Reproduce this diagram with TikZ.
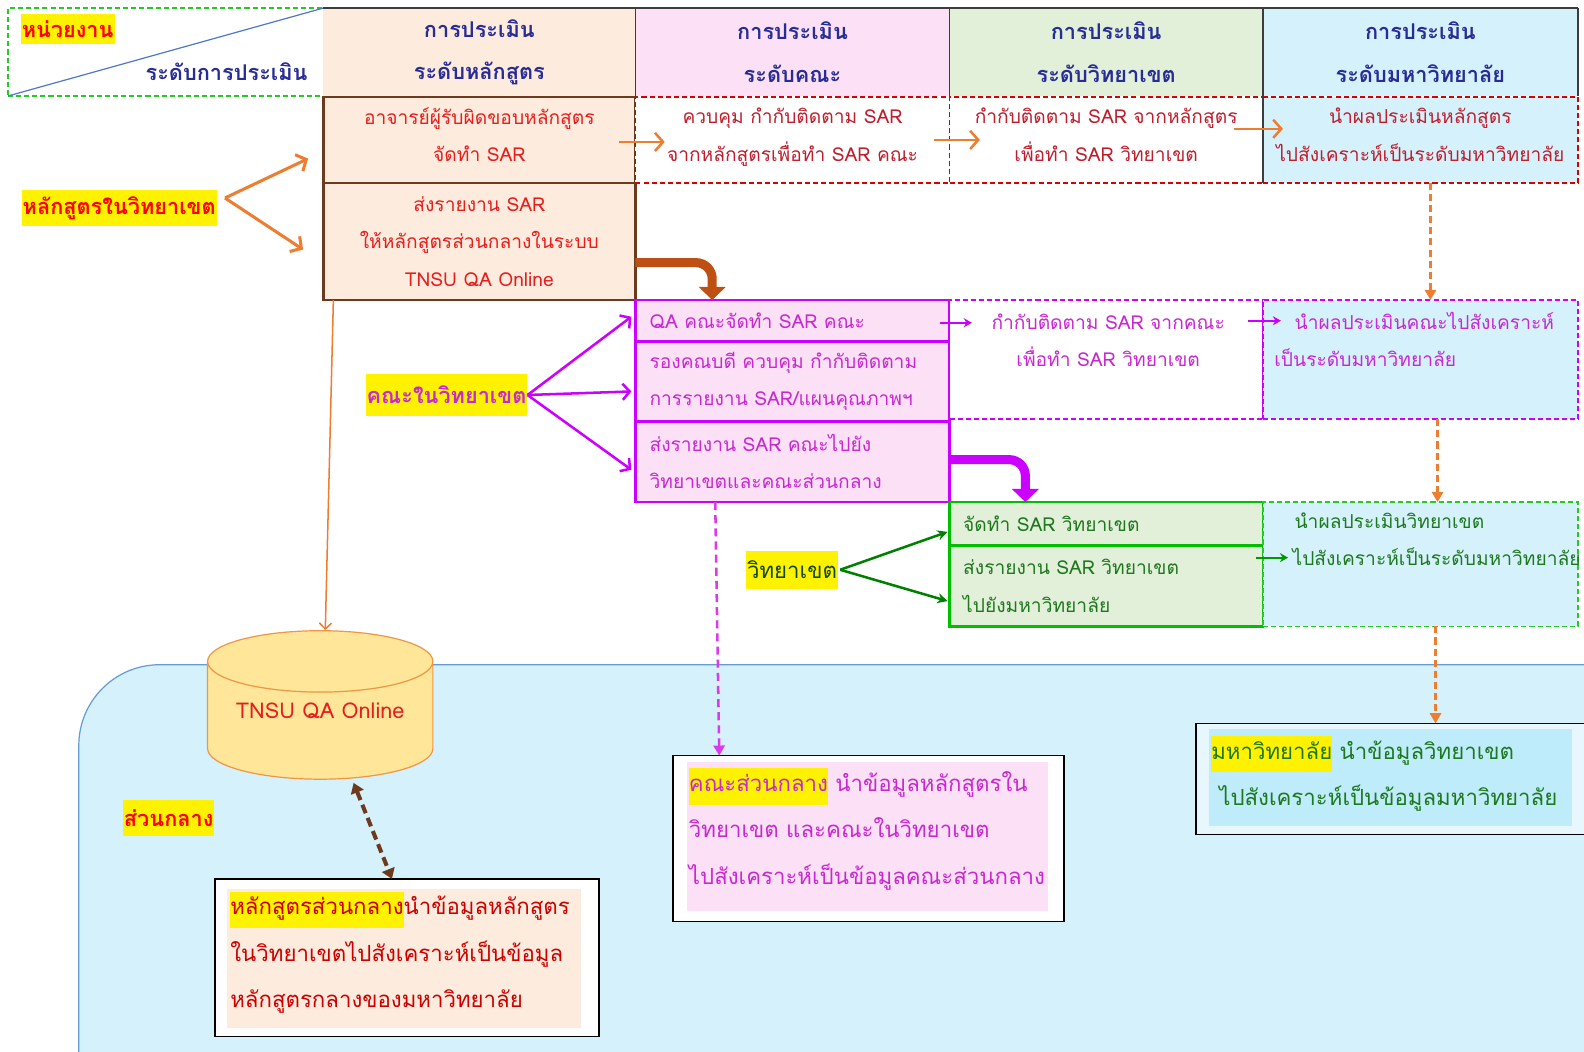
\documentclass[tikz,border=0pt]{standalone}
\usepackage{fontspec}
\setmainfont[Script=Thai]{Loma}
\usetikzlibrary{arrows.meta,shapes.geometric,positioning}

\definecolor{peach}{RGB}{253,235,221}
\definecolor{pinkbg}{RGB}{252,225,246}
\definecolor{greenbg}{RGB}{226,239,217}
\definecolor{bluebg}{RGB}{213,242,252}
\definecolor{uniin}{RGB}{190,236,250}
\definecolor{uniout}{RGB}{232,246,253}
\definecolor{navytxt}{RGB}{40,45,150}
\definecolor{redtxt}{RGB}{230,30,30}
\definecolor{dredtxt}{RGB}{190,30,45}
\definecolor{magtxt}{RGB}{200,40,210}
\definecolor{magline}{RGB}{204,0,255}
\definecolor{grtxt}{RGB}{30,120,30}
\definecolor{grline}{RGB}{0,190,0}
\definecolor{hdgreen}{RGB}{40,200,40}
\definecolor{brownline}{RGB}{110,58,30}
\definecolor{brownarr}{RGB}{190,80,20}
\definecolor{oarr}{RGB}{237,125,49}
\definecolor{gridgray}{RGB}{60,60,60}
\definecolor{diagblue}{RGB}{80,120,200}
\definecolor{centralfill}{RGB}{213,241,252}
\definecolor{centralline}{RGB}{100,155,215}
\definecolor{dbfill}{RGB}{255,230,153}
\definecolor{dbline}{RGB}{240,150,70}

\newcommand{\hlyel}[1]{{\setlength{\fboxsep}{0pt}\colorbox{yellow}{\vrule height 23pt depth 13pt width 0pt#1}}}

\tikzset{
  cell/.style={rectangle, inner sep=0pt, outer sep=0pt},
  txt/.style={font=\fontsize{19}{37}\selectfont, align=center},
  lift/.style={text depth=10pt},
  dashcell/.style={line width=1.6pt, dash pattern=on 5pt off 3pt},
  hdr/.style={cell, txt, font=\bfseries\fontsize{21.5}{42}\selectfont, text=navytxt},
  progbox/.style={cell, txt, fill=peach, draw=brownline, line width=2.5pt, text=redtxt},
  redcell/.style={cell, txt, lift, draw=red!85!black, dashcell, text=dredtxt},
  facbox/.style={cell, txt, align=left, fill=pinkbg, draw=magline, line width=2.5pt, text=magtxt, text width=283pt, inner xsep=14pt},
  magcell/.style={cell, draw=magline, dashcell},
  cambox/.style={cell, txt, align=left, fill=greenbg, draw=grline, line width=2.5pt, text=grtxt, text width=283pt, inner xsep=13pt},
  tag/.style={fill=yellow, inner xsep=1pt, inner ysep=0pt, minimum height=36pt, font=\bfseries\fontsize{21.5}{37}\selectfont},
  lowtxt/.style={cell, font=\fontsize{22}{46}\selectfont, align=left},
  oarrow/.style={draw=oarr, line width=3pt, -{Straight Barb[length=8pt,width=18pt]}},
  marrow/.style={draw=magline, line width=2.5pt, -{Straight Barb[length=7pt,width=16pt]}},
  garrow/.style={draw=green!50!black, line width=2.5pt, -{Stealth[length=10pt,width=10pt]}},
  smallarr/.style={line width=2pt, -{Stealth[length=8pt,width=9pt]}},
  ddown/.style={draw=oarr, line width=2.5pt, dash pattern=on 7pt off 4pt, -{Triangle[length=10pt,width=11pt]}},
}

\begin{document}
\begin{tikzpicture}[x=1pt,y=1pt,yscale=-1]
\useasboundingbox (0,0) rectangle (1568,1041);

% central area
\fill[centralfill, draw=centralline, line width=1.2pt, rounded corners=80pt] (78,658) rectangle (1650,1120);

% header row
\node[cell, draw=hdgreen, dashcell, line width=1.4pt, minimum width=312pt, minimum height=87pt] (hUnit) at (164,51.5) {};
\draw[diagblue, line width=1.2pt] (hUnit.south west) -- (hUnit.north east);
\node[tag, minimum height=30pt, text=red] (lblUnit) at (67,29) {หน่วยงาน};
\node[txt, font=\bfseries\fontsize{21.5}{37}\selectfont, text=navytxt, anchor=east] (lblLevel) at (308,71) {ระดับการประเมิน};

\node[hdr, fill=peach, minimum width=309pt, minimum height=87pt] (hProg) at (474.5,51.5) {การประเมิน\\ระดับหลักสูตร};
\node[hdr, fill=pinkbg, minimum width=311pt, minimum height=87pt] (hFac) at (784.5,51.5) {การประเมิน\\ระดับคณะ};
\node[hdr, fill=greenbg, minimum width=310pt, minimum height=87pt] (hCam) at (1095,51.5) {การประเมิน\\ระดับวิทยาเขต};
\node[hdr, fill=bluebg, minimum width=312pt, minimum height=87pt] (hUni) at (1406,51.5) {การประเมิน\\ระดับมหาวิทยาลัย};

% row: programme
\node[progbox, lift, minimum width=309pt, minimum height=85pt] (progA) at (474.5,138.5) {อาจารย์ผู้รับผิดขอบหลักสูตร\\จัดทำ SAR};
\node[progbox, minimum width=309pt, minimum height=116pt] (progB) at (474.5,239) {ส่งรายงาน SAR\\ให้หลักสูตรส่วนกลางในระบบ\\TNSU QA Online};
\node[redcell, fill=white, minimum width=311pt, minimum height=85pt] (facA) at (784.5,138.5) {ควบคุม กำกับติดตาม SAR\\จากหลักสูตรเพื่อทำ SAR คณะ};
\node[redcell, fill=white, minimum width=310pt, minimum height=85pt] (camA) at (1095,138.5) {กำกับติดตาม SAR จากหลักสูตร\\เพื่อทำ SAR วิทยาเขต};
\node[redcell, fill=bluebg, minimum width=312pt, minimum height=85pt] (uniA) at (1406,138.5) {นำผลประเมินหลักสูตร\\ไปสังเคราะห์เป็นระดับมหาวิทยาลัย};

\draw[gridgray, line width=1.5pt] (hProg.north west) -- (hUni.north east);
\draw[gridgray, line width=1pt] (hFac.north west) -- (hFac.south west);
\draw[gridgray, line width=1pt] (hCam.north west) -- (hCam.south west);
\draw[gridgray, line width=1.5pt] (hUni.north west) -- (uniA.south west);
\draw[gridgray, line width=1.5pt] (hUni.north east) -- (hUni.south east);

% row: faculty
\node[facbox, minimum width=311pt, minimum height=41pt] (facB1) at (784.5,317.5) {QA คณะจัดทำ SAR คณะ};
\node[facbox, minimum width=311pt, minimum height=79pt] (facB2) at (784.5,377.5) {รองคณบดี ควบคุม กำกับติดตาม\\การรายงาน SAR/แผนคุณภาพฯ};
\node[facbox, minimum width=311pt, minimum height=80pt] (facB3) at (784.5,457) {ส่งรายงาน SAR คณะไปยัง\\วิทยาเขตและคณะส่วนกลาง};
\node[magcell, fill=white, minimum width=310pt, minimum height=118pt] (camB) at (1095,356) {};
\node[magcell, fill=bluebg, minimum width=312pt, minimum height=118pt] (uniB) at (1406,356) {};
\node[txt, text=magtxt] (camBtxt) at (1097,336.5) {กำกับติดตาม SAR จากคณะ\\เพื่อทำ SAR วิทยาเขต};
\node[txt, align=left, text=magtxt, anchor=west] (uniBtxt) at (1258,336) {\hspace*{20pt}นำผลประเมินคณะไปสังเคราะห์\\เป็นระดับมหาวิทยาลัย};

% row: campus
\node[cambox, minimum width=310pt, minimum height=43pt] (camC1) at (1095,518.5) {จัดทำ SAR วิทยาเขต};
\node[cambox, minimum width=310pt, minimum height=80pt] (camC2) at (1095,580) {ส่งรายงาน SAR วิทยาเขต\\ไปยังมหาวิทยาลัย};
\node[cell, fill=bluebg, draw=hdgreen, dashcell, minimum width=312pt, minimum height=123pt] (uniC) at (1406,558.5) {};
\node[txt, align=left, text=grtxt, anchor=west] (uniCtxt) at (1276,534) {\hspace*{2pt}นำผลประเมินวิทยาเขต\\ไปสังเคราะห์เป็นระดับมหาวิทยาลัย};

% unit labels
\node[tag, text=red] (lblProg) at (118,206) {หลักสูตรในวิทยาเขต};
\node[tag, minimum height=42pt, text=magtxt] (lblFac) at (442,391) {คณะในวิทยาเขต};
\node[tag, minimum height=38pt, font=\fontsize{22}{37}\selectfont, text=grtxt!60!black] (lblCam) at (784,564) {วิทยาเขต};
\node[tag, text=red] (lblCentral) at (167,810) {ส่วนกลาง};

% central database and boxes
\node[cylinder, shape border rotate=90, aspect=0.35, fill=dbfill, draw=dbline, line width=1.2pt,
      minimum width=223pt, minimum height=147pt, text depth=26pt, font=\fontsize{21.5}{37}\selectfont, text=redtxt] (db) at (317,717) {TNSU QA Online};

\node[cell, fill=white, draw=black, line width=1.5pt, minimum width=380pt, minimum height=156pt] (boxProg) at (403,948) {};
\node[lowtxt, text depth=110pt, fill=peach, text=red!80!black, minimum width=350pt, minimum height=138pt, text width=344pt, inner xsep=3pt] (boxProgIn) at (400,949) {\hlyel{หลักสูตรส่วนกลาง}นำข้อมูลหลักสูตร\\ในวิทยาเขตไปสังเคราะห์เป็นข้อมูล\\หลักสูตรกลางของมหาวิทยาลัย};

\node[cell, fill=white, draw=black, line width=1.5pt, minimum width=387pt, minimum height=164pt] (boxFac) at (859.5,830) {};
\node[lowtxt, text depth=112pt, fill=pinkbg, text=magtxt, minimum width=357pt, minimum height=147pt, text width=353pt, inner xsep=2pt] (boxFacIn) at (858.5,828) {\hlyel{คณะส่วนกลาง} นำข้อมูลหลักสูตรใน\\วิทยาเขต และคณะในวิทยาเขต\\ไปสังเคราะห์เป็นข้อมูลคณะส่วนกลาง};

\node[cell, fill=uniout, draw=black, line width=1.5pt, minimum width=400pt, minimum height=110pt] (boxUni) at (1384,771) {};
\node[lowtxt, text depth=60pt, fill=uniin, text=grtxt, minimum width=359pt, minimum height=96pt, text width=355pt, inner xsep=2pt] (boxUniIn) at (1376.5,770) {\hlyel{มหาวิทยาลัย} นำข้อมูลวิทยาเขต\\\hspace*{8pt}ไปสังเคราะห์เป็นข้อมูลมหาวิทยาลัย};

% connectors: labels to boxes
\draw[oarrow] ([shift={(8pt,-10pt)}]lblProg.east) -- ([shift={(-15pt,-24pt)}]progA.south west);
\draw[oarrow] ([shift={(8pt,-10pt)}]lblProg.east) -- ([shift={(-20pt,8pt)}]progB.west);
\draw[marrow] (lblFac.east) -- ([shift={(-4pt,-4pt)}]facB1.west);
\draw[marrow] (lblFac.east) -- ([shift={(-4pt,10pt)}]facB2.west);
\draw[marrow] (lblFac.east) -- ([shift={(-4pt,8pt)}]facB3.west);
\draw[garrow] ([xshift=2pt]lblCam.east) -- ([shift={(-2pt,8pt)}]camC1.west);
\draw[garrow] ([xshift=2pt]lblCam.east) -- ([shift={(-2pt,15pt)}]camC2.west);

% connectors: across levels
\draw[oarrow, line width=2.5pt] ([xshift=-16pt,yshift=2pt]progA.east) -- ([xshift=29pt,yshift=2pt]facA.west);
\draw[oarrow, line width=2.5pt] ([xshift=-15pt]facA.east) -- ([xshift=30pt]facA.east);
\draw[oarrow, line width=2.5pt] ([xshift=-28pt,yshift=-11pt]camA.east) -- ([xshift=20pt,yshift=-11pt]camA.east);
\draw[smallarr, draw=magline] ([xshift=-10pt,yshift=2pt]facB1.east) -- ([xshift=22pt,yshift=2pt]facB1.east);
\draw[smallarr, draw=magline] ([xshift=-15pt]camB.east |- facB1.east) -- ([xshift=18pt]camB.east |- facB1.east);
\draw[smallarr, draw=green!60!black] ([xshift=-7pt,yshift=12pt]camC2.north east) -- ([xshift=25pt,yshift=12pt]camC2.north east);

% bent transfer arrows
\draw[brownarr, line width=9pt, rounded corners=16pt, -{Triangle[length=13pt,width=26pt]}] ([yshift=21pt]progB.east) -| ([xshift=76pt]facB1.north west);
\draw[magline, line width=9pt, rounded corners=16pt, -{Triangle[length=13pt,width=26pt]}] ([yshift=-2pt]facB3.east) -| ([xshift=75pt]camC1.north west);

% dashed flows downward
\draw[ddown] ([xshift=10pt]uniA.south) -- ([xshift=10pt]uniB.north);
\draw[ddown] ([xshift=17pt]uniB.south) -- ([xshift=17pt]uniC.north);
\draw[ddown] ([xshift=15pt]uniC.south) -- ([xshift=15pt]uniC.south |- boxUni.north);
\draw[draw=magline!70!pink, line width=2.5pt, dash pattern=on 8pt off 5pt, -{Triangle[length=10pt,width=11pt]}] ([xshift=79pt]facB3.south west) -- ([xshift=46pt]boxFac.north west);
\draw[oarr, line width=1.5pt, -{Straight Barb[length=6pt,width=12pt]}] ([xshift=10pt]progB.south west) -- ([xshift=5pt]db.north);
\draw[brownline, line width=4pt, dash pattern=on 9pt off 5pt, {Triangle[length=10pt,width=13pt]}-{Triangle[length=10pt,width=13pt]}] ([xshift=33pt,yshift=3pt]db.south) -- ([xshift=-15pt]boxProg.north);

\end{tikzpicture}
\end{document}
